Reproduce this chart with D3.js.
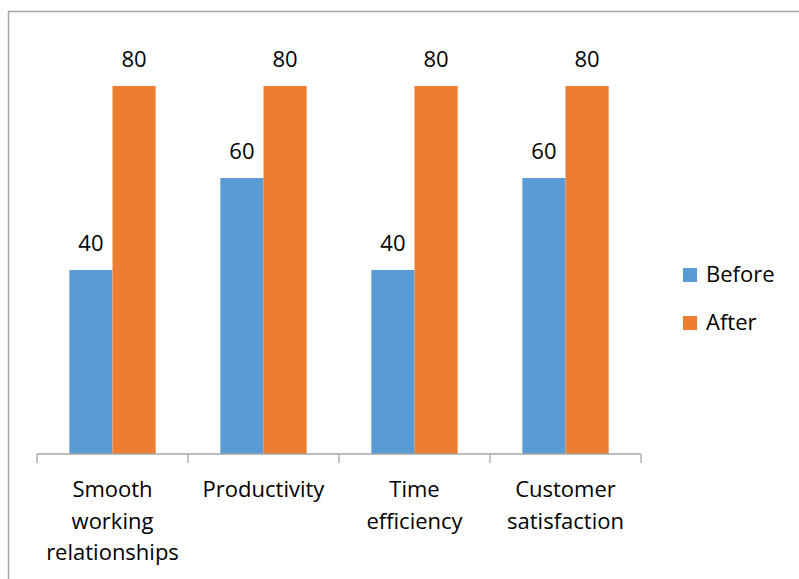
<!DOCTYPE html>
<html>
<head>
<meta charset="utf-8">
<script src="https://cdn.jsdelivr.net/npm/d3@7"></script>
<style>
  html, body { margin: 0; padding: 0; background: #fff; }
  svg { display: block; }
  text { font-family: "Open Sans", "Liberation Sans", sans-serif; fill: #000; }
</style>
</head>
<body>
<svg id="chart" width="799" height="579"></svg>
<script>
const categories = ["Smooth working relationships", "Productivity", "Time efficiency", "Customer satisfaction"];
const seriesNames = ["Before", "After"];
const beforeValues = [40, 60, 40, 60];
const afterValues = [80, 80, 80, 80];
const colors = ["#5B9BD5", "#ED7D31"];

const svg = d3.select("#chart");
const W = 799, H = 579;

// chart border (extends beyond the visible frame)
svg.append("rect")
  .attr("x", 8.5).attr("y", 11.5)
  .attr("width", 1000).attr("height", 1000)
  .attr("fill", "none").attr("stroke", "#a6a6a6").attr("stroke-width", 1.5);

const plot = { left: 37, right: 641, top: 40, bottom: 454 };

const x0 = d3.scaleBand().domain(categories).range([plot.left, plot.right]).paddingInner(0).paddingOuter(0);
const groupW = x0.bandwidth();
const barW = groupW / (2 + 1.5);
const x1 = d3.scaleBand().domain(seriesNames).range([0, barW * 2]);
const y = d3.scaleLinear().domain([0, 90]).range([plot.bottom, plot.top]);

const data = categories.map((c, i) => ({ cat: c, vals: [beforeValues[i], afterValues[i]] }));

const groups = svg.append("g").selectAll("g").data(data).join("g")
  .attr("transform", d => `translate(${x0(d.cat) + (groupW - barW * 2) / 2},0)`);

groups.selectAll("rect").data(d => d.vals.map((v, j) => ({ v, s: seriesNames[j], j })))
  .join("rect")
  .attr("x", d => x1(d.s))
  .attr("y", d => y(d.v))
  .attr("width", x1.bandwidth())
  .attr("height", d => y(0) - y(d.v))
  .attr("fill", d => colors[d.j]);

groups.selectAll("text.lbl").data(d => d.vals.map((v, j) => ({ v, s: seriesNames[j], j })))
  .join("text").attr("class", "lbl")
  .attr("x", d => x1(d.s) + x1.bandwidth() / 2)
  .attr("y", d => y(d.v) - 19)
  .attr("text-anchor", "middle")
  .attr("font-size", 22)
  .text(d => d.v);

// x axis
const axis = d3.axisBottom(x0).tickSize(0).tickFormat("");
const ax = svg.append("g").attr("transform", `translate(0,${plot.bottom})`).call(axis);
ax.select(".domain").attr("stroke", "#a6a6a6").attr("stroke-width", 1.3).attr("d", `M${plot.left},0H${plot.right}`);
const tickPos = categories.map(c => x0(c)).concat([plot.right]);
ax.selectAll("line.sep").data(tickPos).join("line").attr("class", "sep")
  .attr("x1", d => d).attr("x2", d => d).attr("y1", 0).attr("y2", 9)
  .attr("stroke", "#a6a6a6").attr("stroke-width", 1.3);

// category labels with wrapping
const labelG = svg.append("g");
categories.forEach(c => {
  const t = labelG.append("text")
    .attr("x", x0(c) + groupW / 2)
    .attr("y", 497)
    .attr("text-anchor", "middle")
    .attr("font-size", 22);
  const words = c.split(" ");
  let line = [];
  let tspan = t.append("tspan").attr("x", x0(c) + groupW / 2).attr("dy", 0);
  let lineNo = 0;
  words.forEach(w => {
    line.push(w);
    tspan.text(line.join(" "));
    if (tspan.node().getComputedTextLength() > groupW - 6 && line.length > 1) {
      line.pop();
      tspan.text(line.join(" "));
      line = [w];
      lineNo++;
      tspan = t.append("tspan").attr("x", x0(c) + groupW / 2).attr("dy", 31.5).text(w);
    }
  });
});

// legend
const legend = svg.append("g").attr("transform", "translate(683,268)");
seriesNames.forEach((s, i) => {
  const g = legend.append("g").attr("transform", `translate(0,${i * 48})`);
  g.append("rect").attr("width", 14).attr("height", 14).attr("fill", colors[i]);
  g.append("text").attr("x", 23).attr("y", 14).attr("font-size", 22).text(s);
});
</script>
</body>
</html>
